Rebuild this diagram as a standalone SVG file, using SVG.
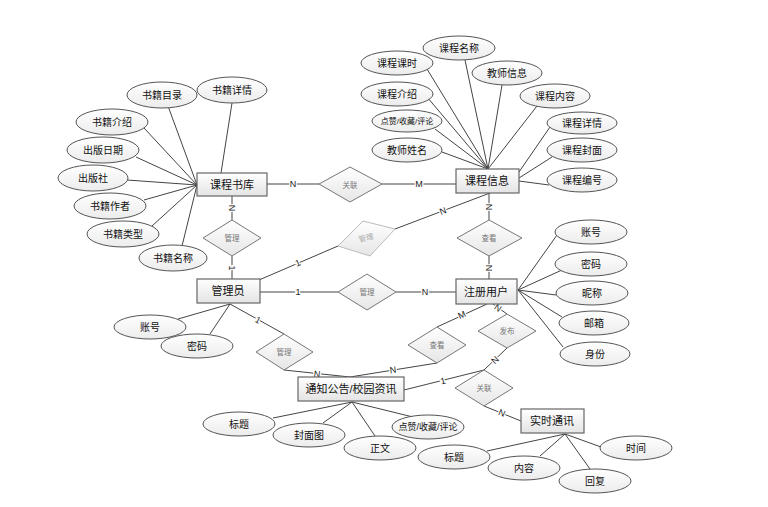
<svg xmlns="http://www.w3.org/2000/svg" width="768" height="507" viewBox="0 0 768 507">
<defs>
<linearGradient id="gE" x1="0" y1="0" x2="0" y2="1"><stop offset="0" stop-color="#ffffff"/><stop offset="1" stop-color="#e4e4e4"/></linearGradient>
<linearGradient id="gA" x1="0" y1="0" x2="0" y2="1"><stop offset="0" stop-color="#ffffff"/><stop offset="1" stop-color="#ececec"/></linearGradient>
<linearGradient id="gR" x1="0" y1="0" x2="0" y2="1"><stop offset="0" stop-color="#ffffff"/><stop offset="1" stop-color="#e6e6e6"/></linearGradient>
</defs>
<style>
text{font-family:"Liberation Sans","Noto Sans CJK SC",sans-serif;text-anchor:middle;dominant-baseline:central}
.ent rect{fill:url(#gE);stroke:#666;stroke-width:1.2}
.ent text{font-size:11px;fill:#111}
.att ellipse{fill:url(#gA);stroke:#555;stroke-width:1}
.att text{font-size:10px;fill:#111}
.rel polygon{fill:url(#gR);stroke:#777;stroke-width:1}
.rel text{font-size:7.5px;fill:#777}
.rel.light polygon{stroke:#bbb}
.rel.light text{fill:#aaa}
.con line,.con polyline{stroke:#444;stroke-width:1;fill:none}
.lbl{font-size:9px;fill:#222;stroke:#fff;stroke-width:2.5px;paint-order:stroke}
</style>
<rect width="768" height="507" fill="#fff"/>
<g id="connectors" class="con">
<!-- 课程书库 attributes -->
<line x1="168" y1="106" x2="197" y2="185"/>
<line x1="232" y1="103" x2="221" y2="173"/>
<line x1="144" y1="128" x2="197" y2="185"/>
<line x1="136" y1="157" x2="197" y2="185"/>
<line x1="127" y1="180" x2="197" y2="185"/>
<line x1="144" y1="200" x2="197" y2="185"/>
<line x1="152" y1="226" x2="197" y2="185"/>
<line x1="182" y1="246" x2="197" y2="185"/>
<!-- 课程信息 attributes -->
<line x1="427" y1="69" x2="488" y2="169"/>
<line x1="465" y1="60" x2="488" y2="169"/>
<line x1="502" y1="85" x2="488" y2="169"/>
<line x1="427" y1="97" x2="488" y2="169"/>
<line x1="537" y1="106" x2="488" y2="169"/>
<line x1="435" y1="129" x2="488" y2="169"/>
<line x1="442" y1="152" x2="488" y2="169"/>
<line x1="550" y1="127" x2="519" y2="172"/>
<line x1="552" y1="157" x2="519" y2="178"/>
<line x1="549" y1="185" x2="519" y2="181" stroke-width="1.5"/>
<!-- 注册用户 attributes -->
<line x1="557" y1="235" x2="518" y2="290"/>
<line x1="562" y1="270" x2="518" y2="290"/>
<line x1="556" y1="295" x2="518" y2="290"/>
<line x1="562" y1="317" x2="518" y2="290"/>
<line x1="563" y1="347" x2="518" y2="290"/>
<!-- 管理员 attributes -->
<line x1="230" y1="304" x2="178" y2="319"/>
<line x1="230" y1="304" x2="210" y2="334"/>
<!-- 通知公告 attributes -->
<line x1="352" y1="402" x2="273" y2="418"/>
<line x1="352" y1="402" x2="323" y2="423"/>
<line x1="352" y1="402" x2="375" y2="436"/>
<line x1="352" y1="402" x2="413" y2="417"/>
<!-- 实时通讯 attributes -->
<line x1="565" y1="434" x2="487" y2="451"/>
<line x1="565" y1="434" x2="540" y2="456"/>
<line x1="565" y1="434" x2="590" y2="469"/>
<line x1="565" y1="434" x2="601" y2="447"/>
<!-- relationships -->
<line x1="267" y1="184" x2="319" y2="184"/>
<line x1="382" y1="184" x2="456" y2="184"/>
<line x1="232" y1="196" x2="232" y2="220"/>
<line x1="232" y1="256" x2="232" y2="279"/>
<line x1="259" y1="280" x2="338" y2="246"/>
<line x1="395" y1="229" x2="490" y2="193"/>
<line x1="489" y1="193" x2="489" y2="220"/>
<line x1="489" y1="256" x2="489" y2="279"/>
<line x1="260" y1="292" x2="338" y2="292"/>
<line x1="396" y1="292" x2="456" y2="292"/>
<line x1="230" y1="304" x2="284" y2="334"/>
<line x1="284" y1="370" x2="350" y2="377"/>
<line x1="437" y1="363" x2="350" y2="377"/>
<line x1="487" y1="304" x2="437" y2="327"/>
<line x1="493" y1="304" x2="507" y2="314"/>
<line x1="507" y1="348" x2="484" y2="370"/>
<line x1="404" y1="390" x2="484" y2="370"/>
<line x1="484" y1="406" x2="521" y2="421"/>
<!-- cardinality labels -->
<text class="lbl" x="293" y="184">N</text>
<text class="lbl" x="419" y="184">M</text>
<text class="lbl" x="232" y="208" transform="rotate(90 232 208)">N</text>
<text class="lbl" x="232" y="268" transform="rotate(90 232 268)">1</text>
<text class="lbl" x="298" y="263" transform="rotate(-23 298 263)">1</text>
<text class="lbl" x="443" y="211" transform="rotate(-21 443 211)">N</text>
<text class="lbl" x="489" y="207" transform="rotate(90 489 207)">N</text>
<text class="lbl" x="489" y="268" transform="rotate(90 489 268)">N</text>
<text class="lbl" x="298" y="292">1</text>
<text class="lbl" x="425" y="292">N</text>
<text class="lbl" x="258" y="320" transform="rotate(29 258 320)">1</text>
<text class="lbl" x="317" y="374" transform="rotate(6 317 374)">N</text>
<text class="lbl" x="393" y="370" transform="rotate(-9 393 370)">N</text>
<text class="lbl" x="462" y="315" transform="rotate(-25 462 315)">M</text>
<text class="lbl" x="498" y="308" transform="rotate(35 498 308)">N</text>
<text class="lbl" x="495" y="360" transform="rotate(-43 495 360)">N</text>
<text class="lbl" x="443" y="381" transform="rotate(-14 443 381)">1</text>
<text class="lbl" x="502" y="413" transform="rotate(22 502 413)">N</text>
</g>
<!-- entities -->
<g id="e-kechengshuku" class="ent"><rect x="197" y="173" width="70" height="23"/><text x="232" y="185">课程书库</text></g>
<g id="e-kechengxinxi" class="ent"><rect x="456" y="169" width="63" height="24"/><text x="487" y="181">课程信息</text></g>
<g id="e-guanliyuan" class="ent"><rect x="197" y="279" width="63" height="24"/><text x="228" y="291">管理员</text></g>
<g id="e-zhuceyonghu" class="ent"><rect x="456" y="279" width="61" height="25"/><text x="486" y="292">注册用户</text></g>
<g id="e-tongzhi" class="ent"><rect x="298" y="377" width="106" height="24"/><text x="351" y="389">通知公告/校园资讯</text></g>
<g id="e-shishitongxun" class="ent"><rect x="521" y="409" width="63" height="24"/><text x="552" y="421">实时通讯</text></g>
<!-- relationships -->
<g id="r-guanlian1" class="rel"><polygon points="350,167 382,184 350,202 319,184"/><text x="350" y="185">关联</text></g>
<g id="r-guanli1" class="rel"><polygon points="232,220 261,238 232,256 203,238"/><text x="232" y="238">管理</text></g>
<g id="r-guanli2" class="rel light"><polygon points="363,221 395,229 370,256 338,246"/><text x="366" y="238" transform="rotate(-15 366 238)">管理</text></g>
<g id="r-chakan1" class="rel"><polygon points="489,220 522,238 489,256 457,238"/><text x="489" y="238">查看</text></g>
<g id="r-guanli3" class="rel"><polygon points="367,274 396,292 367,310 338,292"/><text x="367" y="292">管理</text></g>
<g id="r-guanli4" class="rel"><polygon points="284,334 313,352 284,370 256,352"/><text x="284" y="352">管理</text></g>
<g id="r-chakan2" class="rel"><polygon points="437,327 466,345 437,363 408,345"/><text x="437" y="345">查看</text></g>
<g id="r-fabu" class="rel"><polygon points="507,314 536,331 507,348 478,331"/><text x="507" y="331">发布</text></g>
<g id="r-guanlian2" class="rel"><polygon points="484,370 513,388 484,406 455,388"/><text x="484" y="388">关联</text></g>
<!-- 课程书库 attributes -->
<g id="a-sjml" class="att"><ellipse cx="162" cy="95" rx="35" ry="13"/><text x="162" y="95">书籍目录</text></g>
<g id="a-sjxq" class="att"><ellipse cx="232" cy="90" rx="35" ry="13"/><text x="232" y="90">书籍详情</text></g>
<g id="a-sjjs" class="att"><ellipse cx="112" cy="122" rx="36" ry="13"/><text x="112" y="122">书籍介绍</text></g>
<g id="a-cbrq" class="att"><ellipse cx="103" cy="150" rx="36" ry="13"/><text x="103" y="150">出版日期</text></g>
<g id="a-cbs" class="att"><ellipse cx="93" cy="178" rx="35" ry="13"/><text x="93" y="178">出版社</text></g>
<g id="a-sjzz" class="att"><ellipse cx="110" cy="206" rx="36" ry="13"/><text x="110" y="206">书籍作者</text></g>
<g id="a-sjlx" class="att"><ellipse cx="123" cy="234" rx="36" ry="13"/><text x="123" y="234">书籍类型</text></g>
<g id="a-sjmc" class="att"><ellipse cx="173" cy="258" rx="34" ry="13"/><text x="173" y="258">书籍名称</text></g>
<!-- 课程信息 attributes -->
<g id="a-kcmc" class="att"><ellipse cx="459" cy="48" rx="36" ry="12"/><text x="459" y="48">课程名称</text></g>
<g id="a-kcks" class="att"><ellipse cx="397" cy="63" rx="36" ry="12"/><text x="397" y="63">课程课时</text></g>
<g id="a-jsxx" class="att"><ellipse cx="507" cy="73" rx="35" ry="12"/><text x="507" y="73">教师信息</text></g>
<g id="a-kcjs" class="att"><ellipse cx="397" cy="94" rx="36" ry="12"/><text x="397" y="94">课程介绍</text></g>
<g id="a-kcnr" class="att"><ellipse cx="555" cy="96" rx="35" ry="12"/><text x="555" y="96">课程内容</text></g>
<g id="a-dz1" class="att"><ellipse cx="407" cy="121" rx="35" ry="11"/><text x="407" y="121" style="font-size:8px">点赞/收藏/评论</text></g>
<g id="a-kcxq" class="att"><ellipse cx="582" cy="123" rx="35" ry="11"/><text x="582" y="123">课程详情</text></g>
<g id="a-jsxm" class="att"><ellipse cx="407" cy="150" rx="35" ry="12"/><text x="407" y="150">教师姓名</text></g>
<g id="a-kcfm" class="att"><ellipse cx="582" cy="150" rx="35" ry="12"/><text x="582" y="150">课程封面</text></g>
<g id="a-kcbh" class="att"><ellipse cx="582" cy="180" rx="35" ry="12"/><text x="582" y="180">课程编号</text></g>
<!-- 注册用户 attributes -->
<g id="a-zh2" class="att"><ellipse cx="591" cy="232" rx="36" ry="12"/><text x="591" y="232">账号</text></g>
<g id="a-mm2" class="att"><ellipse cx="591" cy="264" rx="36" ry="12"/><text x="591" y="264">密码</text></g>
<g id="a-nc" class="att"><ellipse cx="592" cy="293" rx="36" ry="12"/><text x="592" y="293">昵称</text></g>
<g id="a-yx" class="att"><ellipse cx="594" cy="323" rx="35" ry="12"/><text x="594" y="323">邮箱</text></g>
<g id="a-sf" class="att"><ellipse cx="595" cy="354" rx="35" ry="12"/><text x="595" y="354">身份</text></g>
<!-- 管理员 attributes -->
<g id="a-zh1" class="att"><ellipse cx="150" cy="327" rx="36" ry="12"/><text x="150" y="327">账号</text></g>
<g id="a-mm1" class="att"><ellipse cx="197" cy="346" rx="36" ry="12"/><text x="197" y="346">密码</text></g>
<!-- 通知公告 attributes -->
<g id="a-bt1" class="att"><ellipse cx="239" cy="424" rx="36" ry="12"/><text x="239" y="424">标题</text></g>
<g id="a-fmt" class="att"><ellipse cx="309" cy="435" rx="36" ry="12"/><text x="309" y="435">封面图</text></g>
<g id="a-zw" class="att"><ellipse cx="380" cy="448" rx="36" ry="12"/><text x="380" y="448">正文</text></g>
<g id="a-dz2" class="att"><ellipse cx="428" cy="427" rx="36" ry="12"/><text x="428" y="427" style="font-size:9px">点赞/收藏/评论</text></g>
<!-- 实时通讯 attributes -->
<g id="a-bt2" class="att"><ellipse cx="454" cy="457" rx="36" ry="12"/><text x="454" y="457">标题</text></g>
<g id="a-nr" class="att"><ellipse cx="524" cy="468" rx="36" ry="12"/><text x="524" y="468">内容</text></g>
<g id="a-hf" class="att"><ellipse cx="595" cy="481" rx="36" ry="12"/><text x="595" y="481">回复</text></g>
<g id="a-sj" class="att"><ellipse cx="636" cy="448" rx="36" ry="12"/><text x="636" y="448">时间</text></g>
</svg>
